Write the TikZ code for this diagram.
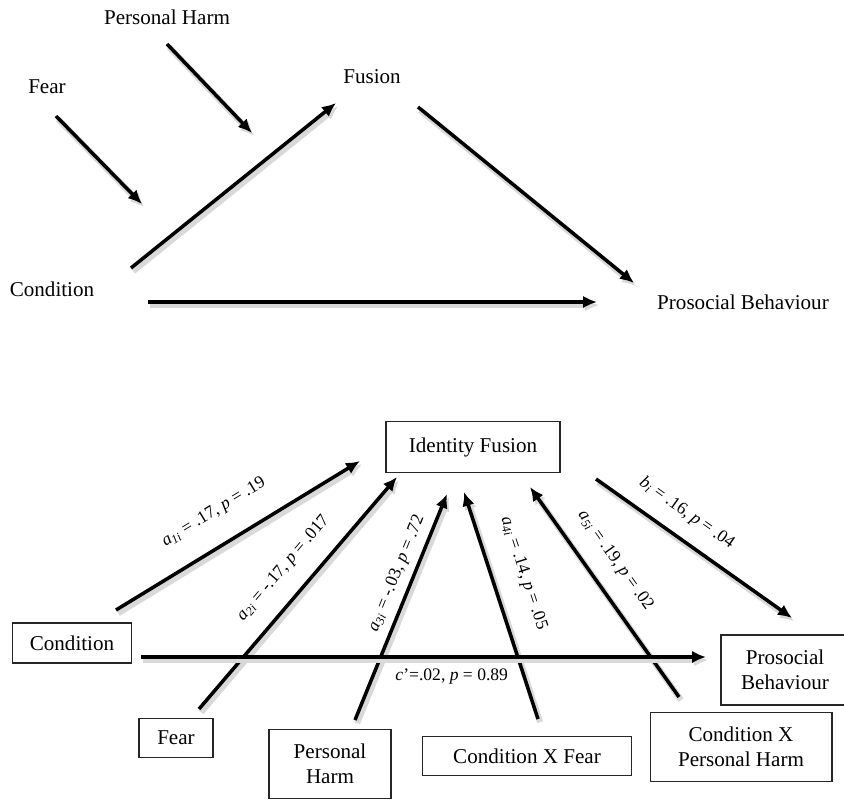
\documentclass[tikz,border=0pt]{standalone}
\usepackage{fontspec}
\setmainfont{Liberation Serif}
\usetikzlibrary{positioning,arrows.meta}

\tikzset{
  link/.style={line width=2pt, -{Latex[length=2.8mm,width=2.5mm]},
    preaction={draw=black!15, line width=3.5pt, transform canvas={shift={(1.2pt,-1.8pt)}}}},
  var/.style={font=\fontsize{12}{14}\selectfont},
  box/.style={var, draw=black!85, line width=0.6pt, align=center, inner sep=0pt},
  coef/.style={font=\fontsize{10}{12}\selectfont, sloped, inner sep=0pt},
}

\begin{document}
\begin{tikzpicture}[x=0.02cm, y=-0.02cm]
  \useasboundingbox (0,0) rectangle (844,800);

  % conceptual model
  \node[var] (harm) at (167,17) {Personal Harm};
  \node[var] (fear) at (47,87) {Fear};
  \node[var] (fusion) at (372,77) {Fusion};
  \node[var] (cond) at (52,289) {Condition};
  \node[var] (pro) at (743,302) {Prosocial Behaviour};

  \foreach \n/\x/\y in {fear-out/56/116, fear-in/142/204, harm-out/167/44, harm-in/252/133,
                        cond-up/131/268, fusion-in/336/103, fusion-out/418/107, pro-up/634/283,
                        cond-right/148/302, pro-left/597/302}
    {\coordinate (\n) at (\x,\y);}

  \draw[link] (fear-out) -- (fear-in);
  \draw[link] (harm-out) -- (harm-in);
  \draw[link] (cond-up) -- (fusion-in);
  \draw[link] (fusion-out) -- (pro-up);
  \draw[link] (cond-right) -- (pro-left);

  % statistical model
  \node[box, minimum width=3.48cm, minimum height=1.02cm] (ifus) at (473,447) {Identity Fusion};
  \node[box, minimum width=2.38cm, minimum height=0.8cm] (c) at (72,643) {Condition};
  \node[box, minimum width=2.56cm, minimum height=1.4cm] (pb) at (785,670) {Prosocial\\Behaviour};
  \node[box, minimum width=1.48cm, minimum height=0.78cm] (f) at (176,738) {Fear};
  \node[box, minimum width=2.44cm, minimum height=1.38cm] (ph) at (330,764) {Personal\\Harm};
  \node[box, minimum width=4.18cm, minimum height=0.78cm] (cxf) at (527,756) {Condition X Fear};
  \node[box, minimum width=3.64cm, minimum height=1.38cm] (cxph) at (741,747) {Condition X\\Personal Harm};

  \foreach \n/\x/\y in {c-up/116/610, ifus-a1/360/461, f-up/199/709, ifus-a2/397/477,
                        ph-up/355/720, ifus-a3/447/494, cxf-up/538/719, ifus-a4/464/492,
                        cxph-up/679/697, ifus-a5/530/487, ifus-b/596/479, pb-up/792/618,
                        c-right/141/657, pb-left/706/657}
    {\coordinate (\n) at (\x,\y);}

  \draw[link] (c-up) -- node[coef, above=13pt, pos=0.47] {\textit{a}\textsubscript{\textit{1i}} = .17, \textit{p} = .19} (ifus-a1);
  \draw[link] (f-up) -- node[coef, above=10pt, pos=0.53] {\textit{a}\textsubscript{\textit{2i}} = -.17, \textit{p} = .017} (ifus-a2);
  \draw[link] (ph-up) -- node[coef, above=4pt, pos=0.62] {\textit{a}\textsubscript{\textit{3i}} = -.03, \textit{p} = .72} (ifus-a3);
  \draw[link] (cxf-up) -- node[coef, above=12.5pt, pos=0.6] {\textit{a}\textsubscript{\textit{4i}} = .14, \textit{p} = .05} (ifus-a4);
  \draw[link] (cxph-up) -- node[coef, above=10pt, pos=0.575] {\textit{a}\textsubscript{\textit{5i}} = .19, \textit{p} = .02} (ifus-a5);
  \draw[link] (ifus-b) -- node[coef, above=8.5pt, pos=0.39] {\textit{b}\textsubscript{\textit{i}} = .16, \textit{p} = .04} (pb-up);
  \draw[link] (c-right) -- node[coef, below=5.5pt, pos=0.55] {\textit{c}’=.02, \textit{p} = 0.89} (pb-left);
\end{tikzpicture}
\end{document}
